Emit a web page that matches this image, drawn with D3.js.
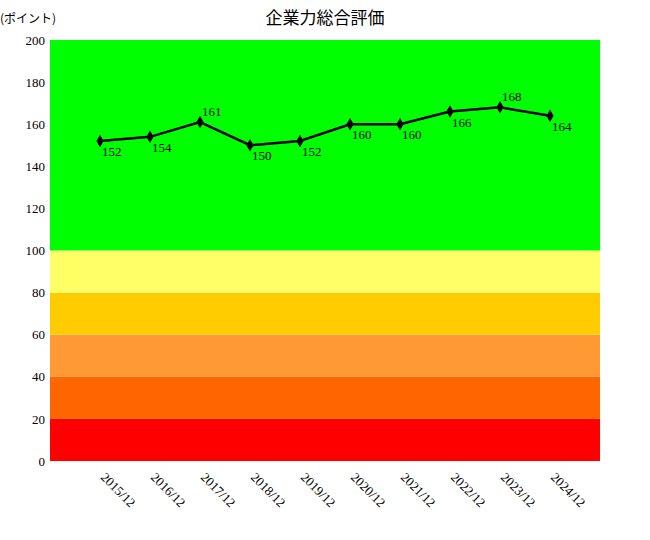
<!DOCTYPE html>
<html><head><meta charset="utf-8">
<script src="https://cdn.jsdelivr.net/npm/d3@7"></script>
<style>body{margin:0;background:#fff}</style>
</head><body><svg id="c" width="650" height="540"></svg>
<script>
const categories=["2015/12","2016/12","2017/12","2018/12","2019/12","2020/12","2021/12","2022/12","2023/12","2024/12"];
const values=[152,154,161,150,152,160,160,166,168,164];
const labelAbove=[false,false,true,false,false,false,false,false,true,false];
const yTicks=[0,20,40,60,80,100,120,140,160,180,200];
const bandLimits=[0,20,40,60,80,100,200];
const bandColors=["#ff0000","#ff6600","#ff9933","#ffcc00","#ffff66","#00ff00"];

const svg=d3.select("#c");
const x=d3.scaleLinear().domain([-1,10]).range([50,600]);
const y=d3.scaleLinear().domain([0,200]).range([461,40]);
const font="'Liberation Serif','DejaVu Serif',serif";

svg.selectAll("rect.b").data(bandColors).join("rect")
 .attr("x",50).attr("width",550)
 .attr("y",(d,i)=>y(bandLimits[i+1])).attr("height",(d,i)=>y(bandLimits[i])-y(bandLimits[i+1]))
 .attr("fill",d=>d);

const ya=svg.append("g").attr("transform","translate(50,0)")
 .call(d3.axisLeft(y).tickValues(yTicks).tickSize(0).tickPadding(5));
ya.select(".domain").remove();
ya.selectAll("text").attr("font-family",font).attr("font-size",13).attr("fill","#000");

svg.selectAll("text.xl").data(categories).join("text")
 .attr("transform",(d,i)=>`translate(${x(i)},${478}) rotate(45)`)
 .attr("font-family",font).attr("font-size",13).text(d=>d);

const line=d3.line().x((d,i)=>x(i)).y(d=>y(d));
svg.append("path").datum(values).attr("d",line).attr("fill","none").attr("stroke","#000").attr("stroke-width",2.5);
svg.selectAll("path.m").data(values).join("path")
 .attr("d",d3.symbol(d3.symbolDiamond,45))
 .attr("transform",(d,i)=>`translate(${x(i)},${y(d)})`).attr("fill","#000");
svg.selectAll("text.v").data(values).join("text")
 .attr("x",(d,i)=>x(i)+2).attr("y",(d,i)=>labelAbove[i]?y(d)-6:y(d)+15)
 .attr("font-family",font).attr("font-size",13).text(d=>d);

svg.append("text").attr("x",325).attr("y",24).attr("text-anchor","middle")
 .attr("font-family","'Noto Sans CJK JP'").attr("font-size",17).text("企業力総合評価");
svg.append("text").attr("x",0).attr("y",23)
 .attr("font-family","'Noto Sans CJK JP'").attr("font-size",12).text("(ポイント)");
</script></body></html>
